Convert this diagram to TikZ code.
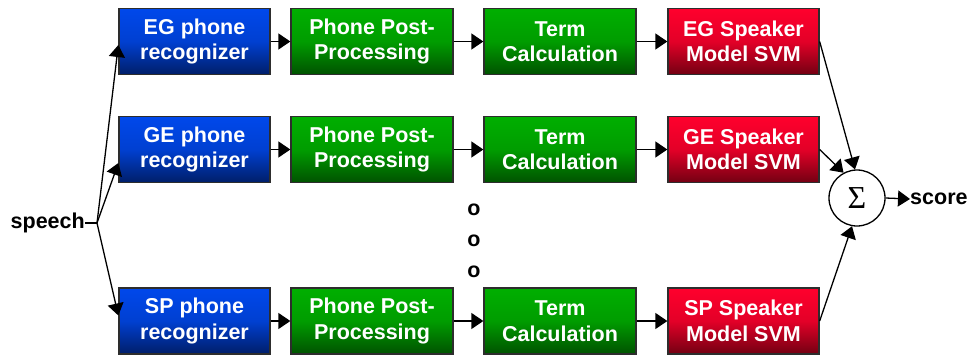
\documentclass[tikz,border=0pt]{standalone}
\usepackage{fontspec}
\setmainfont{Liberation Sans}
\newfontfamily\serifsig{Liberation Serif}
\usetikzlibrary{arrows.meta}
\definecolor{bluetop}{RGB}{0,72,235}
\definecolor{bluebot}{RGB}{0,30,105}
\definecolor{greentop}{RGB}{0,175,0}
\definecolor{greenbot}{RGB}{0,82,0}
\definecolor{redtop}{RGB}{255,0,45}
\definecolor{redbot}{RGB}{115,0,18}
\definecolor{edge}{RGB}{45,45,45}
\tikzset{
  box/.style={draw=edge, line width=1.3pt, minimum height=66pt, inner sep=0pt,
    text=white, align=center, font=\fontsize{21.5}{25.5}\selectfont\bfseries},
  bluebox/.style={box, minimum width=151pt, top color=bluetop, bottom color=bluebot, middle color=bluetop!80!bluebot},
  greenbox/.style={box, top color=greentop, bottom color=greenbot, middle color=greentop!80!greenbot},
  redbox/.style={box, minimum width=151pt, top color=redtop, bottom color=redbot, middle color=redtop!80!redbot},
  arr/.style={line width=1.3pt, -{Triangle[length=12pt,width=16pt]}},
  ln/.style={line width=1.3pt},
  lbl/.style={font=\fontsize{21.5}{25}\selectfont\bfseries, inner sep=0pt},
}
\begin{document}
\begin{tikzpicture}[x=1pt,y=-1pt]
\useasboundingbox (0,0) rectangle (969,354);
% row 1
\node[bluebox] (eg1) at (194.5,41.5) {EG phone\\recognizer};
\node[greenbox, minimum width=162pt] (pp1) at (372,41.5) {Phone Post-\\Processing};
\node[greenbox, minimum width=152pt] (tc1) at (560,41.5) {Term\\Calculation};
\node[redbox] (sv1) at (743.5,41.5) {EG Speaker\\Model SVM};
% row 2
\node[bluebox] (eg2) at (194.5,149.5) {GE phone\\recognizer};
\node[greenbox, minimum width=162pt] (pp2) at (372,149.5) {Phone Post-\\Processing};
\node[greenbox, minimum width=152pt] (tc2) at (560,149.5) {Term\\Calculation};
\node[redbox] (sv2) at (743.5,149.5) {GE Speaker\\Model SVM};
% row 3
\node[bluebox] (eg3) at (194.5,321) {SP phone\\recognizer};
\node[greenbox, minimum width=162pt] (pp3) at (372,321) {Phone Post-\\Processing};
\node[greenbox, minimum width=152pt] (tc3) at (560,321) {Term\\Calculation};
\node[redbox] (sv3) at (743.5,321) {SP Speaker\\Model SVM};
% dots
\node[lbl] (d1) at (474,210) {o};
\node[lbl] (d2) at (474,241) {o};
\node[lbl] (d3) at (474,272) {o};
% speech
\node[lbl, anchor=east] (sp) at (85,223) {speech};
\coordinate (j) at (97,223);
\draw[ln] (sp.east) -- (j);
\draw[arr] (j) -- ([yshift=-3.5pt]eg1.west);
\draw[arr] (j) -- ([yshift=-13.5pt]eg2.west);
\draw[arr] (j) -- ([yshift=5.5pt]eg3.west);
% horizontal arrows
\foreach \r in {1,2,3}{
  \draw[arr] (eg\r) -- (pp\r);
  \draw[arr] (pp\r) -- (tc\r);
  \draw[arr] (tc\r) -- (sv\r);
}
% sum
\node[draw, circle, line width=1.3pt, minimum size=56pt, inner sep=0pt, fill=white] (sum) at (857,198) {\serifsig\fontsize{32}{32}\selectfont Σ};
\draw[arr] (sv1.east) -- (sum.94);
\draw[arr] (sv2.east) -- (sum.118);
\draw[arr] (sv3.east) -- (sum.260);
\node[lbl, anchor=west] (score) at (910,199) {score};
\draw[arr] (sum.east) -- (score.west);
\end{tikzpicture}
\end{document}
